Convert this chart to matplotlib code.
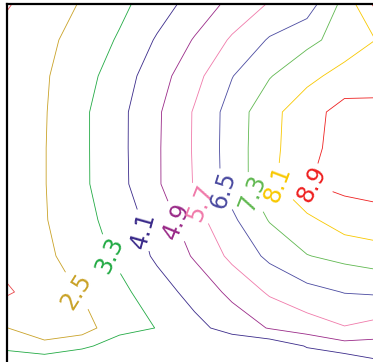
import numpy as np
import matplotlib
matplotlib.use("Agg")
import matplotlib.pyplot as plt

# Sample grid: columns left->right, rows top->bottom
x_nodes = np.arange(11)
y_nodes = [0, 1, 2, 3, 4, 5, 6, 7, 8, 9, 9.5, 10]

z_rows = [
    [1.64, 2.10, 2.56, 3.10, 3.73, 4.41, 5.11, 5.76, 6.10, 7.56, 9.40],
    [1.95, 2.32, 2.79, 3.39, 4.18, 4.96, 5.81, 6.58, 7.09, 7.63, 8.20],
    [2.10, 2.42, 2.99, 3.71, 4.55, 5.44, 6.47, 7.25, 7.88, 8.40, 8.30],
    [2.30, 2.45, 3.15, 3.89, 4.78, 5.77, 6.84, 7.85, 8.58, 9.20, 9.30],
    [2.30, 2.47, 3.15, 3.89, 4.80, 5.78, 6.86, 7.88, 8.62, 9.30, 9.40],
    [2.25, 2.47, 3.15, 3.87, 4.80, 5.75, 6.84, 7.90, 8.87, 9.10, 9.20],
    [2.20, 2.45, 3.02, 3.68, 4.42, 5.39, 6.35, 7.35, 7.92, 8.50, 8.65],
    [2.00, 2.35, 2.84, 3.46, 4.24, 4.98, 5.89, 6.68, 7.27, 7.52, 7.75],
    [1.60, 2.10, 2.56, 3.10, 3.73, 4.39, 5.09, 5.81, 6.25, 6.53, 6.62],
    [2.52, 1.75, 2.07, 3.15, 3.31, 3.86, 4.42, 4.95, 5.30, 5.65, 5.35],
    [3.20, 2.87, 3.20, 3.53, 3.60, 3.60, 3.50, 3.56, 4.15, 4.60, 4.60],
    [3.60, 3.80, 3.80, 3.70, 3.70, 3.60, 3.50, 3.50, 3.60, 3.40, 3.96],
]

levels = [1.7, 2.5, 3.3, 4.1, 4.9, 5.7, 6.5, 7.3, 8.1, 8.9]
line_colors = ['#e8474a', '#c9a227', '#22aa44', '#3a2a8a', '#9a2a88',
               '#f07aaa', '#4a4aa0', '#60b850', '#f8c800', '#ee2020']

# where each level's label sits (None = unlabelled)
label_spots = [None, (1.81, 8.00), (2.64, 7.00), (3.65, 6.28), (4.45, 6.06),
               (5.04, 5.58), (5.57, 5.25), (6.43, 5.31), (7.15, 5.08),
               (8.13, 5.03)]

Z = np.array(z_rows)

fig = plt.figure(figsize=(3.73, 3.62), dpi=100)
ax = fig.add_axes([0.018767, -0.005525, 1.005362, 0.994475])

for lev, col, spot in zip(levels, line_colors, label_spots):
    cs = ax.contour(x_nodes, y_nodes, Z, levels=[lev], colors=[col],
                    linewidths=0.6)
    if spot is not None:
        ax.clabel(cs, manual=[spot], inline=True, fmt='%.1f',
                  fontsize=17, inline_spacing=3)

ax.set_xlim(0, 10)
ax.set_ylim(10, 0)
ax.set_xticks([])
ax.set_yticks([])
for side in ('left', 'top'):
    ax.spines[side].set_color('black')
    ax.spines[side].set_linewidth(1.6)

fig.savefig('out.png', dpi=100)
